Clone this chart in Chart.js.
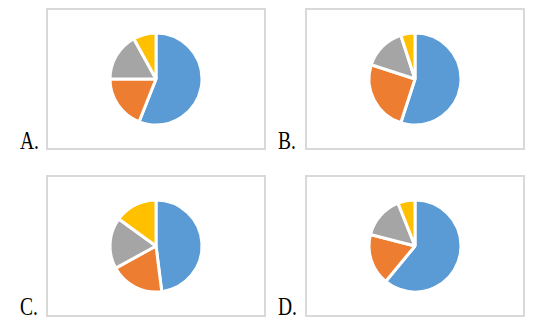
<!DOCTYPE html>
<html lang="zh">
<head>
    <meta charset="UTF-8">
    <title>Pie options</title>
    <script src="https://cdn.jsdelivr.net/npm/chart.js"></script>
    <style>
        html, body { margin: 0; padding: 0; background: #fff; }
        body { position: relative; width: 537px; height: 326px; overflow: hidden; }
        .box {
            position: absolute;
            width: 220px;
            height: 142px;
            border: 2px solid #d9d9d9;
            box-sizing: border-box;
        }
        .box .inner { position: absolute; left: 0; top: 0; right: 0; bottom: 0; }
        .tag {
            position: absolute;
            font-family: "Liberation Serif", "DejaVu Serif", serif;
            font-size: 26px;
            line-height: 26px;
            color: #000;
            transform: scaleX(0.75);
            transform-origin: left top;
            white-space: nowrap;
        }
    </style>
</head>
<body>
    <script>
        // 四个选项的饼图数据（从图上估读，单位 %）
        const sliceNames = ['第一类', '第二类', '第三类', '第四类'];
        const panelLabels = ['A.', 'B.', 'C.', 'D.'];
        const valuesA = [56, 19, 17, 8];
        const valuesB = [55, 25, 15, 5];
        const valuesC = [48, 19, 18, 15];
        const valuesD = [61, 18, 15, 6];

        const sliceColors = ['#5b9bd5', '#ed7d31', '#a5a5a5', '#ffc000'];

        // 每个小图的位置
        const panels = [
            { values: valuesA, box: [46, 8],    tag: [20, 128] },
            { values: valuesB, box: [305, 8],   tag: [278, 128] },
            { values: valuesC, box: [46, 175],  tag: [20, 294] },
            { values: valuesD, box: [305, 175], tag: [278, 294] }
        ];

        panels.forEach(function(p, i) {
            var box = document.createElement('div');
            box.className = 'box';
            box.style.left = p.box[0] + 'px';
            box.style.top = p.box[1] + 'px';
            var inner = document.createElement('div');
            inner.className = 'inner';
            var cv = document.createElement('canvas');
            inner.appendChild(cv);
            box.appendChild(inner);
            document.body.appendChild(box);

            var tag = document.createElement('div');
            tag.className = 'tag';
            tag.style.left = p.tag[0] + 'px';
            tag.style.top = p.tag[1] + 'px';
            tag.textContent = panelLabels[i];
            document.body.appendChild(tag);

            new Chart(cv.getContext('2d'), {
                type: 'pie',
                data: {
                    labels: sliceNames,
                    datasets: [{
                        data: p.values,
                        backgroundColor: sliceColors,
                        borderColor: '#ffffff',
                        borderWidth: 3,
                        radius: 46
                    }]
                },
                options: {
                    responsive: true,
                    maintainAspectRatio: false,
                    animation: false,
                    layout: { padding: 0 },
                    plugins: {
                        legend: { display: false },
                        tooltip: { enabled: false }
                    }
                }
            });
        });
    </script>
</body>
</html>
